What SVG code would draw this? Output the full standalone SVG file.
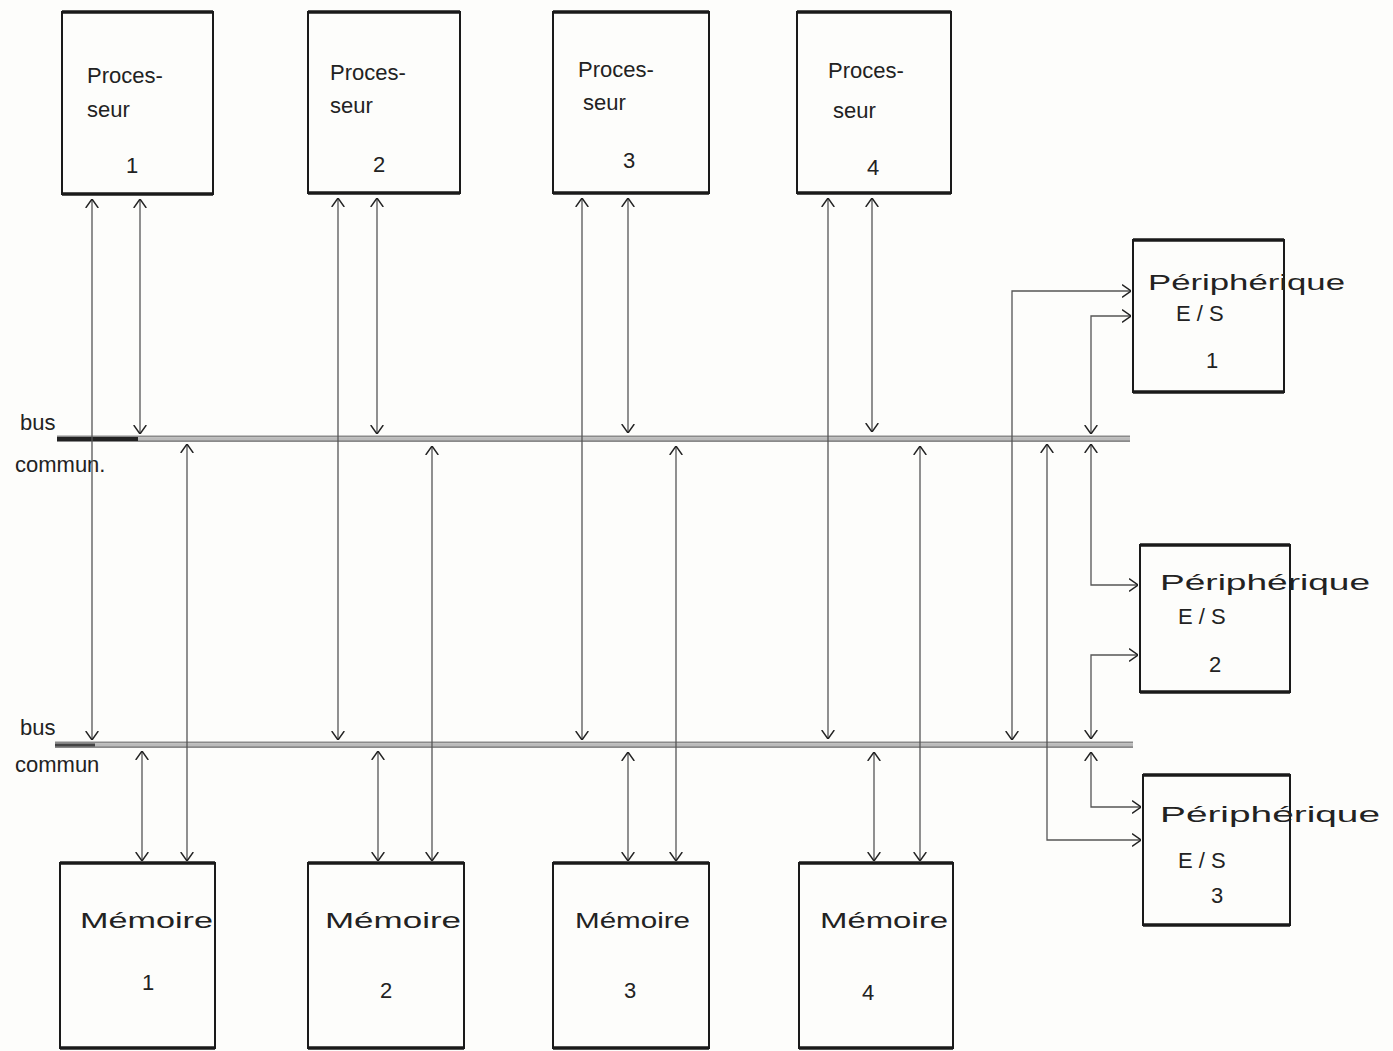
<svg xmlns="http://www.w3.org/2000/svg" width="1393" height="1051" viewBox="0 0 1393 1051">
<defs>
<marker id="a" viewBox="0 0 10 14" refX="10" refY="7" markerWidth="9" markerHeight="14" markerUnits="userSpaceOnUse" orient="auto-start-reverse">
<path d="M0,0 L10,7 L0,14" fill="none" stroke="#222" stroke-width="1.6"/>
</marker>
</defs>
<style>
.box{fill:none;stroke:#1a1a1a;stroke-width:2;}
.edge{stroke:#1a1a1a;stroke-width:3.5;}
.t{font-family:"Liberation Sans","DejaVu Sans",sans-serif;font-size:22px;fill:#222;}
.c{text-anchor:middle;}
.con{fill:none;stroke:#555;stroke-width:1.3;marker-start:url(#a);marker-end:url(#a);}
.bus{stroke:#8a8a8a;stroke-width:2.2;}
</style>
<rect width="1393" height="1051" fill="#fdfdfb"/>

<g id="bus1">
<line class="bus" x1="57" y1="436.5" x2="1130" y2="436.5"/>
<line class="bus" x1="57" y1="441" x2="1130" y2="441"/>
<line x1="57" y1="439" x2="1130" y2="439" stroke="#bbb" stroke-width="2.5"/>
<line x1="57" y1="439" x2="138" y2="439" stroke="#222" stroke-width="4"/>
<text class="t" x="20" y="430">bus</text>
<text class="t" x="15" y="472">commun.</text>
</g>
<g id="bus2">
<line class="bus" x1="55" y1="742.5" x2="1133" y2="742.5"/>
<line class="bus" x1="55" y1="747" x2="1133" y2="747"/>
<line x1="55" y1="745" x2="1133" y2="745" stroke="#bbb" stroke-width="2.5"/>
<line x1="55" y1="745" x2="95" y2="745" stroke="#444" stroke-width="3"/>
<text class="t" x="20" y="735">bus</text>
<text class="t" x="15" y="772">commun</text>
</g>

<g id="proc1">
<rect class="box" x="62" y="12" width="151" height="182"/>
<line class="edge" x1="62" y1="12" x2="213" y2="12"/><line class="edge" x1="62" y1="194" x2="213" y2="194"/>
<text class="t" x="87" y="83">Proces-</text><text class="t" x="87" y="117">seur</text><text class="t c" x="132" y="173">1</text>
</g>
<g id="proc2">
<rect class="box" x="308" y="12" width="152" height="181"/>
<line class="edge" x1="308" y1="12" x2="460" y2="12"/><line class="edge" x1="308" y1="193" x2="460" y2="193"/>
<text class="t" x="330" y="80">Proces-</text><text class="t" x="330" y="113">seur</text><text class="t c" x="379" y="172">2</text>
</g>
<g id="proc3">
<rect class="box" x="553" y="12" width="156" height="181"/>
<line class="edge" x1="553" y1="12" x2="709" y2="12"/><line class="edge" x1="553" y1="193" x2="709" y2="193"/>
<text class="t" x="578" y="77">Proces-</text><text class="t" x="583" y="110">seur</text><text class="t c" x="629" y="168">3</text>
</g>
<g id="proc4">
<rect class="box" x="797" y="12" width="154" height="181"/>
<line class="edge" x1="797" y1="12" x2="951" y2="12"/><line class="edge" x1="797" y1="193" x2="951" y2="193"/>
<text class="t" x="828" y="78">Proces-</text><text class="t" x="833" y="118">seur</text><text class="t c" x="873" y="175">4</text>
</g>

<g id="mem1">
<rect class="box" x="60" y="863" width="155" height="185"/>
<line class="edge" x1="60" y1="863" x2="215" y2="863"/><line class="edge" x1="60" y1="1048" x2="215" y2="1048"/>
<text class="t" x="80" y="928" textLength="133" lengthAdjust="spacingAndGlyphs">Mémoire</text><text class="t c" x="148" y="990">1</text>
</g>
<g id="mem2">
<rect class="box" x="308" y="863" width="156" height="185"/>
<line class="edge" x1="308" y1="863" x2="464" y2="863"/><line class="edge" x1="308" y1="1048" x2="464" y2="1048"/>
<text class="t" x="325" y="928" textLength="136" lengthAdjust="spacingAndGlyphs">Mémoire</text><text class="t c" x="386" y="998">2</text>
</g>
<g id="mem3">
<rect class="box" x="553" y="863" width="156" height="185"/>
<line class="edge" x1="553" y1="863" x2="709" y2="863"/><line class="edge" x1="553" y1="1048" x2="709" y2="1048"/>
<text class="t" x="575" y="928" textLength="115" lengthAdjust="spacingAndGlyphs">Mémoire</text><text class="t c" x="630" y="998">3</text>
</g>
<g id="mem4">
<rect class="box" x="799" y="863" width="154" height="185"/>
<line class="edge" x1="799" y1="863" x2="953" y2="863"/><line class="edge" x1="799" y1="1048" x2="953" y2="1048"/>
<text class="t" x="820" y="928" textLength="128" lengthAdjust="spacingAndGlyphs">Mémoire</text><text class="t c" x="868" y="1000">4</text>
</g>

<g id="per1">
<rect class="box" x="1133" y="240" width="151" height="152"/>
<line class="edge" x1="1133" y1="240" x2="1284" y2="240"/><line class="edge" x1="1133" y1="392" x2="1284" y2="392"/>
<text class="t" x="1148" y="290" textLength="197" lengthAdjust="spacingAndGlyphs">Périphérique</text>
<text class="t" x="1176" y="321">E / S</text><text class="t c" x="1212" y="368">1</text>
</g>
<g id="per2">
<rect class="box" x="1140" y="545" width="150" height="147"/>
<line class="edge" x1="1140" y1="545" x2="1290" y2="545"/><line class="edge" x1="1140" y1="692" x2="1290" y2="692"/>
<text class="t" x="1160" y="590" textLength="210" lengthAdjust="spacingAndGlyphs">Périphérique</text>
<text class="t" x="1178" y="624">E / S</text><text class="t c" x="1215" y="672">2</text>
</g>
<g id="per3">
<rect class="box" x="1143" y="775" width="147" height="150"/>
<line class="edge" x1="1143" y1="775" x2="1290" y2="775"/><line class="edge" x1="1143" y1="925" x2="1290" y2="925"/>
<text class="t" x="1160" y="822" textLength="220" lengthAdjust="spacingAndGlyphs">Périphérique</text>
<text class="t" x="1178" y="868">E / S</text><text class="t c" x="1217" y="903">3</text>
</g>

<g id="connectors">
<path class="con" d="M92,199 V740"/>
<path class="con" d="M140,199 V434"/>
<path class="con" d="M338,198 V740"/>
<path class="con" d="M377,198 V434"/>
<path class="con" d="M582,198 V740"/>
<path class="con" d="M628,198 V433"/>
<path class="con" d="M828,198 V739"/>
<path class="con" d="M872,198 V432"/>
<path class="con" d="M142,751 V861"/>
<path class="con" d="M187,444 V861"/>
<path class="con" d="M378,751 V861"/>
<path class="con" d="M432,446 V861"/>
<path class="con" d="M628,752 V861"/>
<path class="con" d="M676,446 V861"/>
<path class="con" d="M874,752 V861"/>
<path class="con" d="M920,446 V861"/>
<path class="con" d="M1131,291 H1012 V740"/>
<path class="con" d="M1131,316 H1091 V434"/>
<path class="con" d="M1091,444 V585 H1138"/>
<path class="con" d="M1138,655 H1091 V739"/>
<path class="con" d="M1091,752 V807 H1141"/>
<path class="con" d="M1047,444 V840 H1141"/>
</g>
</svg>
